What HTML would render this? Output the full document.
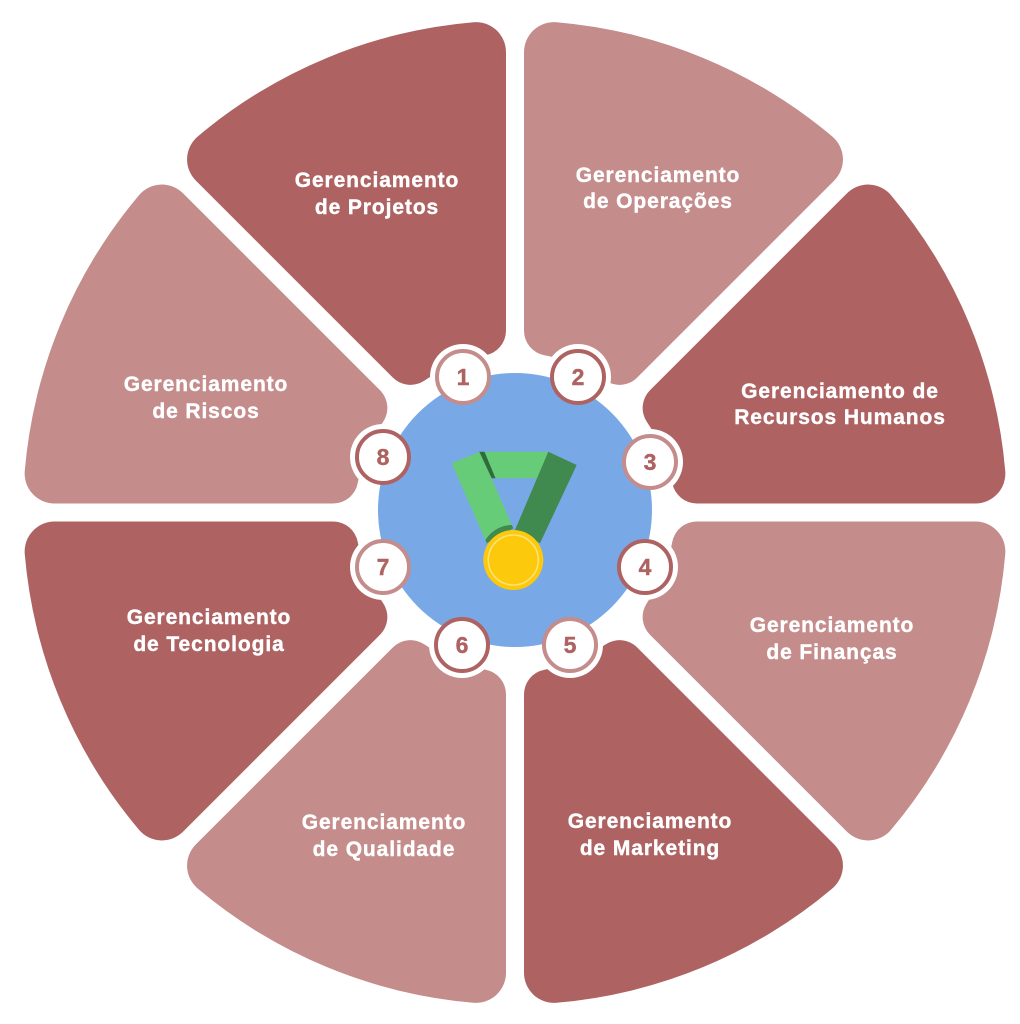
<!DOCTYPE html>
<html>
<head>
<meta charset="utf-8">
<style>
  html, body { margin: 0; padding: 0; background: #ffffff; }
  body { width: 1020px; height: 1024px; overflow: hidden; }
  svg { display: block; }
  .lbl { font-family: "Liberation Sans", "DejaVu Sans", sans-serif; font-weight: bold; font-size: 21px; fill: #ffffff; stroke: #ffffff; stroke-width: 0.4px; letter-spacing: 0.9px; text-anchor: middle; }
  .num { font-family: "Liberation Sans", "DejaVu Sans", sans-serif; font-weight: bold; font-size: 23px; fill: #ae6362; stroke: #ae6362; stroke-width: 0.4px; text-anchor: middle; }
</style>
</head>
<body>
<svg width="1020" height="1024" viewBox="0 0 1020 1024" xmlns="http://www.w3.org/2000/svg">
  <defs>
    <path id="w" d="M9,-181.85 L9,-460.35 A30,30 0 0 1 41.53,-490.25 A492,492 0 0 1 317.29,-376.02 A30,30 0 0 1 319.15,-331.88 L122.22,-134.95 A25,25 0 0 1 90.42,-132.01 A160,160 0 0 0 29.41,-157.28 A25,25 0 0 1 9,-181.85 Z"/>
    <clipPath id="leftStrap">
      <polygon points="451.7,463.3 480,451.7 513.3,528.3 486.7,543.3"/>
    </clipPath>
  </defs>

  <g transform="translate(515,512.5)">
    <use href="#w" fill="#ae6362" transform="scale(-1,1)"/>
    <use href="#w" fill="#c48c8b"/>
    <use href="#w" fill="#ae6362" transform="matrix(0,-1,-1,0,0,0)"/>
    <use href="#w" fill="#c48c8b" transform="matrix(0,1,-1,0,0,0)"/>
    <use href="#w" fill="#ae6362" transform="scale(1,-1)"/>
    <use href="#w" fill="#c48c8b" transform="scale(-1,-1)"/>
    <use href="#w" fill="#ae6362" transform="matrix(0,1,1,0,0,0)"/>
    <use href="#w" fill="#c48c8b" transform="matrix(0,-1,1,0,0,0)"/>
  </g>

  <g fill="#ffffff">
    <circle cx="463" cy="377" r="33"/>
    <circle cx="578" cy="377" r="33"/>
    <circle cx="650" cy="462" r="33"/>
    <circle cx="645" cy="567" r="33"/>
    <circle cx="570" cy="645" r="33"/>
    <circle cx="462" cy="645" r="33"/>
    <circle cx="383" cy="567" r="33"/>
    <circle cx="383" cy="457" r="33"/>
  </g>

  <circle cx="515" cy="510" r="137" fill="#78a9e6"/>

  <polygon points="451.7,463.3 480,451.7 513.3,528.3 486.7,543.3" fill="#67cc78"/>
  <polygon points="480,451.7 548.3,451.7 538.3,478.3 493.3,478.3" fill="#67cc78"/>
  <polygon points="479.3,451.7 484.5,451.7 495.5,478.3 491.7,478.3" fill="#2f6b3b"/>
  <polygon points="548.3,451.7 576.7,465 540,543.3 515,530" fill="#40894f"/>
  <circle cx="512" cy="556" r="31" fill="#40894f" clip-path="url(#leftStrap)"/>
  <circle cx="513.3" cy="560" r="30" fill="#fcc90d"/>
  <circle cx="513.3" cy="560" r="25" fill="none" stroke="#fde27a" stroke-width="1.5"/>

  <g fill="#ffffff" stroke-width="4">
    <circle cx="463" cy="377" r="26" stroke="#c48c8b"/>
    <circle cx="578" cy="377" r="26" stroke="#ae6362"/>
    <circle cx="650" cy="462" r="26" stroke="#c48c8b"/>
    <circle cx="645" cy="567" r="26" stroke="#ae6362"/>
    <circle cx="570" cy="645" r="26" stroke="#c48c8b"/>
    <circle cx="462" cy="645" r="26" stroke="#ae6362"/>
    <circle cx="383" cy="567" r="26" stroke="#c48c8b"/>
    <circle cx="383" cy="457" r="26" stroke="#ae6362"/>
  </g>
  <text class="num" x="463" y="385">1</text>
  <text class="num" x="578" y="385">2</text>
  <text class="num" x="650" y="470">3</text>
  <text class="num" x="645" y="575">4</text>
  <text class="num" x="570" y="653">5</text>
  <text class="num" x="462" y="653">6</text>
  <text class="num" x="383" y="575">7</text>
  <text class="num" x="383" y="465">8</text>

  <text class="lbl" x="377" y="187">Gerenciamento</text>
  <text class="lbl" x="377" y="214">de Projetos</text>

  <text class="lbl" x="658" y="182">Gerenciamento</text>
  <text class="lbl" x="658" y="208">de Operações</text>

  <text class="lbl" x="840" y="398">Gerenciamento de</text>
  <text class="lbl" x="840" y="424">Recursos Humanos</text>

  <text class="lbl" x="832" y="632">Gerenciamento</text>
  <text class="lbl" x="832" y="659">de Finanças</text>

  <text class="lbl" x="650" y="828">Gerenciamento</text>
  <text class="lbl" x="650" y="855">de Marketing</text>

  <text class="lbl" x="384" y="829">Gerenciamento</text>
  <text class="lbl" x="384" y="856">de Qualidade</text>

  <text class="lbl" x="209" y="624">Gerenciamento</text>
  <text class="lbl" x="209" y="651">de Tecnologia</text>

  <text class="lbl" x="206" y="391">Gerenciamento</text>
  <text class="lbl" x="206" y="418">de Riscos</text>
</svg>
</body>
</html>
